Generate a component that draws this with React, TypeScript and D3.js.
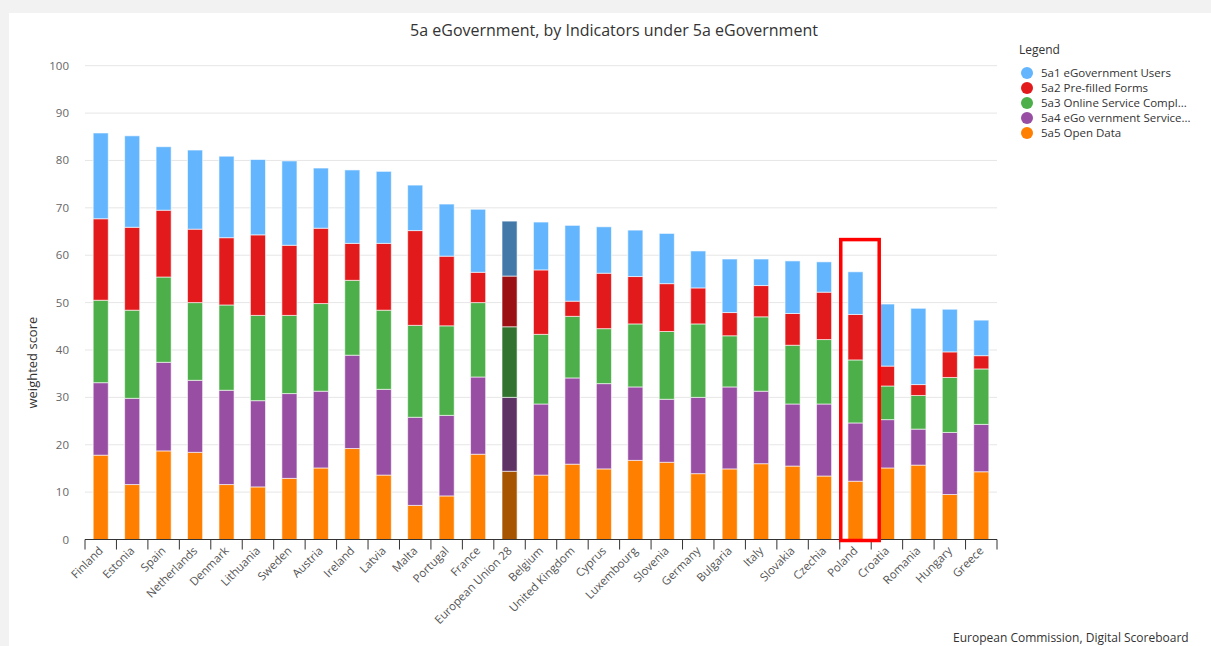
import * as d3 from "d3";

// stacked bars, 5a eGovernment indicators per country

const countries = [
  "Finland", "Estonia", "Spain", "Netherlands", "Denmark", "Lithuania", "Sweden",
  "Austria", "Ireland", "Latvia", "Malta", "Portugal", "France", "European Union 28",
  "Belgium", "United Kingdom", "Cyprus", "Luxembourg", "Slovenia", "Germany",
  "Bulgaria", "Italy", "Slovakia", "Czechia", "Poland", "Croatia", "Romania",
  "Hungary", "Greece",
];

// segment values, bottom to top
const openData = [17.8, 11.6, 18.7, 18.4, 11.6, 11.1, 12.9, 15.1, 19.2, 13.6, 7.2, 9.2, 18.0, 14.4, 13.6, 15.9, 14.9, 16.7, 16.3, 13.9, 14.9, 16.0, 15.5, 13.4, 12.3, 15.1, 15.7, 9.5, 14.3];
const services = [15.3, 18.2, 18.7, 15.2, 19.9, 18.2, 17.9, 16.2, 19.7, 18.1, 18.6, 17.0, 16.3, 15.6, 15.0, 18.2, 18.0, 15.5, 13.3, 16.1, 17.3, 15.3, 13.1, 15.2, 12.3, 10.2, 7.6, 13.1, 10.0];
const completion = [17.4, 18.6, 18.0, 16.4, 18.0, 18.0, 16.5, 18.5, 15.8, 16.7, 19.4, 18.9, 15.7, 14.9, 14.7, 13.0, 11.6, 13.3, 14.3, 15.5, 10.8, 15.7, 12.4, 13.6, 13.3, 7.1, 7.1, 11.6, 11.7];
const prefilled = [17.2, 17.5, 14.1, 15.5, 14.2, 17.0, 14.8, 15.9, 7.8, 14.1, 20.0, 14.7, 6.4, 10.7, 13.6, 3.2, 11.7, 10.0, 10.1, 7.6, 4.9, 6.6, 6.7, 10.0, 9.6, 4.2, 2.3, 5.4, 2.8];
const users = [18.1, 19.3, 13.4, 16.7, 17.2, 15.9, 17.8, 12.7, 15.5, 15.2, 9.6, 11.0, 13.3, 11.6, 10.1, 16.0, 9.8, 9.8, 10.6, 7.8, 11.3, 5.6, 11.1, 6.4, 9.0, 13.1, 16.1, 9.0, 7.5];

const legendNames = [
  "5a1 eGovernment Users",
  "5a2 Pre-filled Forms",
  "5a3 Online Service Compl...",
  "5a4 eGo vernment Service...",
  "5a5 Open Data",
];
const yTicks = [0, 10, 20, 30, 40, 50, 60, 70, 80, 90, 100];

const keys = ["open", "services", "completion", "prefilled", "users"];
const colors: Record<string, string> = {
  users: "#63b5fd", prefilled: "#e31a1c", completion: "#4caf49", services: "#984ea3", open: "#ff7f00",
};
const darkColors: Record<string, string> = {
  users: "#4379a9", prefilled: "#9a1013", completion: "#32742f", services: "#5f3266", open: "#a85500",
};
const legendKeys = ["users", "prefilled", "completion", "services", "open"];

const highlight = "Poland";
const euName = "European Union 28";

export default function App() {
  const width = 1211, height = 646;
  const left = 85, right = 997, top = 65.7, bottom = 539.5;

  const rows = countries.map((c, i) => ({
    country: c,
    open: openData[i],
    services: services[i],
    completion: completion[i],
    prefilled: prefilled[i],
    users: users[i],
  }));
  const series = d3.stack<any>().keys(keys)(rows);

  const x = d3.scaleBand<string>().domain(countries).range([left, right]).paddingInner(0.52).paddingOuter(0.26);
  const xb = d3.scaleBand<string>().domain(countries).range([left, right]);
  const y = d3.scaleLinear().domain([0, 100]).range([bottom, top]);

  const font = "'Open Sans', 'DejaVu Sans', sans-serif";

  return (
    <svg width={width} height={height} style={{ position: "fixed", left: 0, top: 0 }} fontFamily={font}>
      <rect width={width} height={height} fill="#f2f2f2" />
      <rect x={9} y={13} width={width - 9} height={height - 13} fill="#fff" />

      <text x={614} y={36} textAnchor="middle" fontSize={16} fill="#333">
        5a eGovernment, by Indicators under 5a eGovernment
      </text>

      {/* grid + y ticks */}
      {yTicks.map((t) => (
        <g key={t}>
          {t > 0 && <line x1={left} x2={right} y1={y(t)} y2={y(t)} stroke="#e6e6e6" strokeWidth={1} />}
          <text x={69} y={y(t) + 4} textAnchor="end" fontSize={11.5} fill="#666">{t}</text>
        </g>
      ))}
      <text transform={`translate(37,${(top + bottom) / 2 + 60}) rotate(-90)`} textAnchor="middle" fontSize={13} fill="#333">
        weighted score
      </text>

      {/* bars */}
      {series.map((s) => (
        <g key={s.key}>
          {s.map((d: any) => {
            const c = d.data.country;
            const fill = c === euName ? darkColors[s.key] : colors[s.key];
            return (
              <rect
                key={c}
                x={x(c)}
                y={y(d[1])}
                width={x.bandwidth()}
                height={y(d[0]) - y(d[1])}
                fill={fill}
                stroke="#fff"
                strokeOpacity={0.6}
                strokeWidth={1}
              />
            );
          })}
        </g>
      ))}

      {/* x axis */}
      <line x1={left} x2={right} y1={bottom} y2={bottom} stroke="#333" strokeWidth={1.2} />
      {countries.map((c) => (
        <line key={c} x1={xb(c)} x2={xb(c)} y1={bottom} y2={bottom + 10} stroke="#333" strokeWidth={1} />
      ))}
      <line x1={right} x2={right} y1={bottom} y2={bottom + 10} stroke="#333" strokeWidth={1} />
      {countries.map((c) => {
        const cx = (xb(c) as number) + xb.bandwidth() / 2 + 3;
        return (
          <text key={c} transform={`translate(${cx},${bottom + 12}) rotate(-45)`} textAnchor="end" fontSize={11.5} fill="#555">
            {c}
          </text>
        );
      })}

      {/* highlight box */}
      <rect
        x={(xb(highlight) as number) + 1}
        y={y(63.3)}
        width={xb.bandwidth() + 7}
        height={y(0) - y(63.3) + 1}
        fill="none"
        stroke="#ff0000"
        strokeWidth={3.5}
      />

      {/* legend */}
      <text x={1019} y={54} fontSize={12} fill="#333">Legend</text>
      {legendKeys.map((k, i) => (
        <g key={k} transform={`translate(1027,${73 + i * 15})`}>
          <circle r={6} fill={colors[k]} />
          <text x={14} y={4} fontSize={11.5} fill="#333">{legendNames[i]}</text>
        </g>
      ))}

      <text x={953} y={642} fontSize={12} fill="#333">European Commission, Digital Scoreboard</text>
    </svg>
  );
}
